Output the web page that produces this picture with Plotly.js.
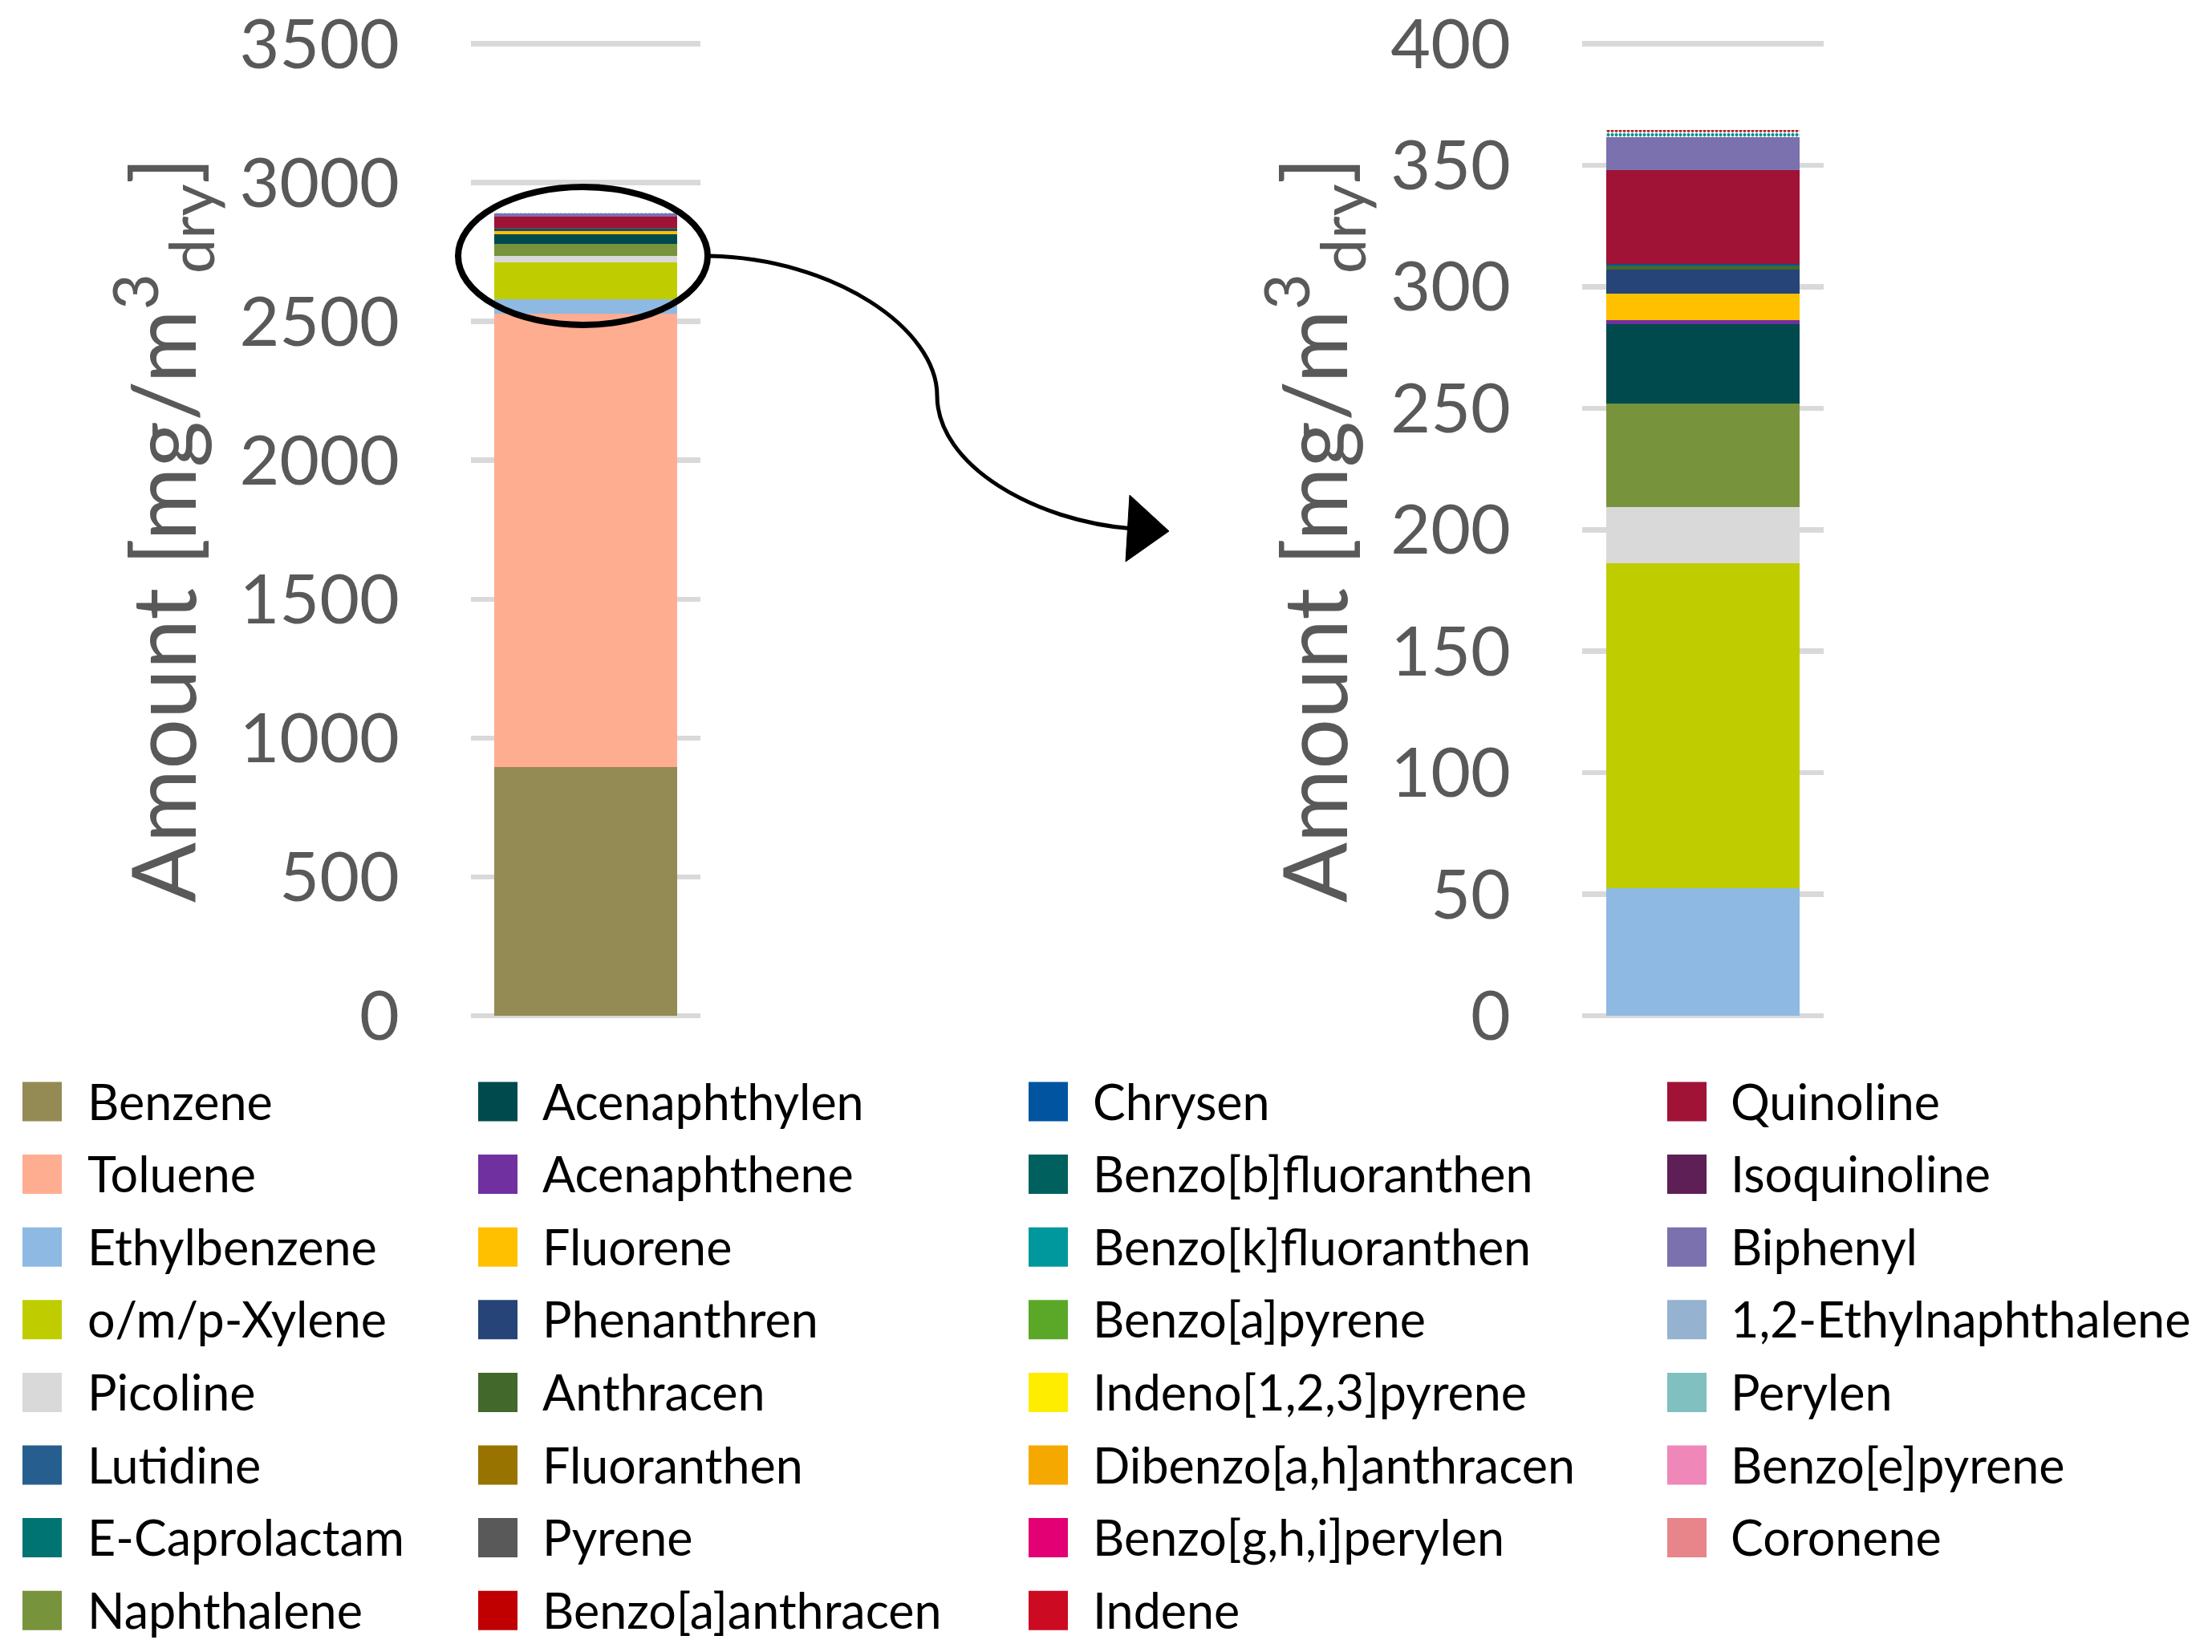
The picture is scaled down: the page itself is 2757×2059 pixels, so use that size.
<!DOCTYPE html>
<html>
<head>
<meta charset="utf-8">
<script src="https://cdn.plot.ly/plotly-3.0.1.min.js"></script>
<style>
  html, body { margin: 0; padding: 0; background: #ffffff; }
  #chart { width: 2757px; height: 2059px; }
</style>
</head>
<body>
<div id="chart"></div>
<script>
// ---------------- data ----------------
const compounds = [
  "Benzene", "Toluene", "Ethylbenzene", "o/m/p-Xylene", "Picoline", "Lutidine",
  "E-Caprolactam", "Naphthalene", "Acenaphthylen", "Acenaphthene", "Fluorene",
  "Phenanthren", "Anthracen", "Fluoranthen", "Pyrene", "Benzo[a]anthracen",
  "Chrysen", "Benzo[b]fluoranthen", "Benzo[k]fluoranthen", "Benzo[a]pyrene",
  "Indeno[1,2,3]pyrene", "Dibenzo[a,h]anthracen", "Benzo[g,h,i]perylen", "Indene",
  "Quinoline", "Isoquinoline", "Biphenyl", "1,2-Ethylnaphthalene", "Perylen",
  "Benzo[e]pyrene", "Coronene"
];

// amount in mg/m3 (dry)
const amounts = [
  895, 1633, 52.4, 133.8, 23.1, 0,
  0, 42.5, 32.8, 1.6, 10.9,
  9.9, 1.8, 0, 0, 0,
  0.5, 0, 0, 0,
  0, 0, 0, 0,
  38.8, 0, 13.3, 0.35, 2.2,
  0, 0.6
];

const seriesColors = [
  "#948A54", "#FFAD91", "#8EB9E3", "#BFCD00", "#D9D9D9", "#265F8F",
  "#007373", "#77933C", "#004A4D", "#7030A0", "#FFC000",
  "#264478", "#43682B", "#997300", "#595959", "#C00000",
  "#0054A0", "#00605E", "#00979D", "#5BA829",
  "#FFED00", "#F5A800", "#E20074", "#CC0A22",
  "#A01236", "#5E1F56", "#7B71AE", "#2A64A0", "#008080",
  "#DF1171", "#D10B15"
];

const patternedSeries = ["1,2-Ethylnaphthalene", "Perylen", "Benzo[e]pyrene", "Coronene"];

// the zoomed (right) chart leaves out these two
const excludedFromZoom = ["Benzene", "Toluene"];

const leftTicks = [0, 500, 1000, 1500, 2000, 2500, 3000, 3500];
const rightTicks = [0, 50, 100, 150, 200, 250, 300, 350, 400];
const axisTitle = "Amount [mg/m<sup>3</sup><sub>dry</sub>]";

// ---------------- layout helpers ----------------
const W = 2757, H = 2059;
const px = x => x / W;
const py = y => 1 - y / H;
const FONT = "Lato, Carlito, 'Liberation Sans', sans-serif";

function mixWhite(hex, f) {
  const n = parseInt(hex.slice(1), 16);
  const r = (n >> 16) & 255, g = (n >> 8) & 255, b = n & 255;
  const m = c => Math.round(c + (255 - c) * f);
  return "rgb(" + m(r) + "," + m(g) + "," + m(b) + ")";
}

// ---------------- traces ----------------
const traces = [];
compounds.forEach((name, i) => {
  const isPat = patternedSeries.includes(name);
  const marker = { color: seriesColors[i], line: { width: 0 } };
  if (isPat) {
    marker.pattern = { shape: ".", fillmode: "replace", fgcolor: seriesColors[i],
                       bgcolor: "#ffffff", size: 5, solidity: 0.5 };
  }
  traces.push({
    type: "bar", name: name, x: [1], y: [amounts[i]],
    xaxis: "x", yaxis: "y", marker: marker, showlegend: false,
    hovertemplate: name + ": %{y}<extra></extra>"
  });
  if (!excludedFromZoom.includes(name)) {
    traces.push({
      type: "bar", name: name, x: [1], y: [amounts[i]],
      xaxis: "x2", yaxis: "y2", marker: marker, showlegend: false,
      hovertemplate: name + ": %{y}<extra></extra>"
    });
  }
});

// ---------------- legend (4 columns, column-major) ----------------
const legendSwatchX = [28, 596, 1282, 2078];
const legendTextX = [107, 674, 1360, 2155];
const legendRow0 = 1373, legendRowStep = 90.6, legendRows = 8;
const swatch = 49;

const shapes = [];
const annotations = [];
compounds.forEach((name, i) => {
  const col = Math.floor(i / legendRows), row = i % legendRows;
  const cy = legendRow0 + row * legendRowStep;
  const isPat = patternedSeries.includes(name);
  const fill = isPat ? mixWhite(seriesColors[i], 0.5) : seriesColors[i];
  shapes.push({
    type: "rect", xref: "paper", yref: "paper",
    x0: px(legendSwatchX[col]), x1: px(legendSwatchX[col] + swatch),
    y0: py(cy + swatch / 2), y1: py(cy - swatch / 2),
    fillcolor: fill, line: { width: 0 }
  });
  annotations.push({
    xref: "paper", yref: "paper", x: px(legendTextX[col]), y: py(cy - 1),
    xanchor: "left", yanchor: "middle", showarrow: false, text: name,
    font: { family: FONT, size: 61, color: "#000000" }
  });
});

// ellipse around the top of the left bar and the arrow to the zoomed chart
shapes.push({
  type: "circle", xref: "paper", yref: "paper",
  x0: px(571), x1: px(882), y0: py(405), y1: py(233),
  line: { color: "#000000", width: 8 }, fillcolor: "rgba(0,0,0,0)"
});
const P = (x, y) => px(x) + "," + py(y);
shapes.push({
  type: "path", xref: "paper", yref: "paper",
  path: "M" + P(884, 319) + " C" + P(1040, 322) + " " + P(1168, 410) + " " + P(1168, 493) +
        " C" + P(1168, 580) + " " + P(1290, 650) + " " + P(1412, 659),
  line: { color: "#000000", width: 5 }
});
shapes.push({
  type: "path", xref: "paper", yref: "paper",
  path: "M" + P(1408, 617) + " L" + P(1457, 662) + " L" + P(1403, 700) + " Z",
  fillcolor: "#000000", line: { color: "#000000", width: 1 }
});

// ---------------- axes ----------------
// plot area padded above the top tick and below zero (symmetrically) so that the
// top gridline/label are kept and the axis title stays centred on the ticks
const zeroPx = 1266, topTickPx = 54.5, padPx = 24;
function yAxis(ticks) {
  const top = ticks[ticks.length - 1];
  const unitPx = (zeroPx - topTickPx) / top;
  return {
    domain: [py(zeroPx + padPx), py(topTickPx - padPx)],
    range: [-padPx / unitPx, top + padPx / unitPx],
    tickmode: "array", tickvals: ticks, ticktext: ticks.map(String),
    showgrid: true, gridcolor: "#D9D9D9", gridwidth: 6.5,
    zeroline: true, zerolinecolor: "#D9D9D9", zerolinewidth: 6.5,
    showline: false, ticks: "", ticklabelstandoff: 88, ticklabeloverflow: "allow",
    tickfont: { family: FONT, size: 86, color: "#595959" },
    title: { text: axisTitle, standoff: 16,
             font: { family: FONT, size: 111, color: "#595959" } },
    automargin: false, fixedrange: true
  };
}
function xAxis(dom, anchor) {
  return {
    domain: dom, anchor: anchor, range: [0.5, 1.5], showticklabels: false,
    showgrid: false, zeroline: false, showline: false, ticks: "", fixedrange: true
  };
}

const layout = {
  width: W, height: H,
  margin: { l: 0, r: 0, t: 0, b: 0, pad: 0 },
  paper_bgcolor: "#ffffff", plot_bgcolor: "rgba(0,0,0,0)",
  barmode: "stack", bargap: 0.2, showlegend: false,
  font: { family: FONT, color: "#595959" },
  xaxis: xAxis([px(587), px(873)], "y"),
  yaxis: Object.assign(yAxis(leftTicks), { anchor: "x" }),
  xaxis2: xAxis([px(1972), px(2273)], "y2"),
  yaxis2: Object.assign(yAxis(rightTicks), { anchor: "x2" }),
  shapes: shapes, annotations: annotations
};

Plotly.newPlot("chart", traces, layout, { staticPlot: true, displayModeBar: false });
</script>
</body>
</html>
